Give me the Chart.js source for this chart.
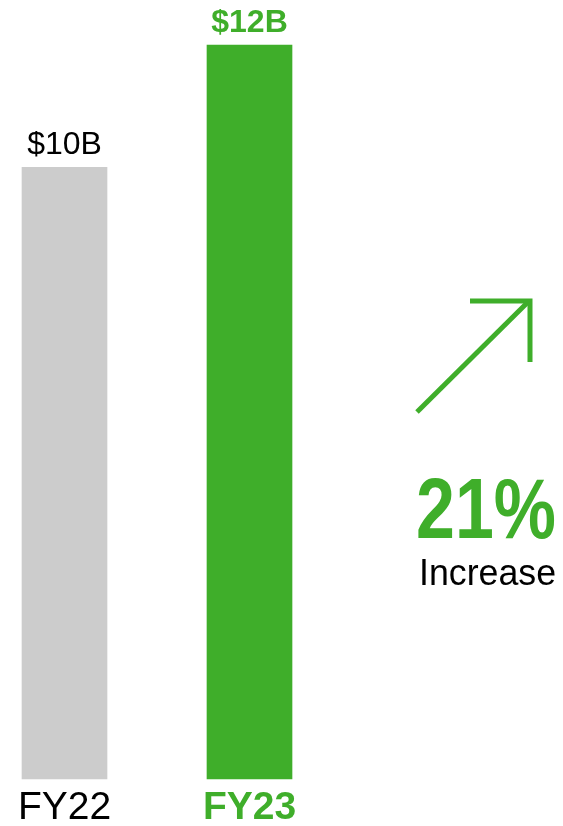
<!DOCTYPE html>
<html><head><meta charset="utf-8">
<script src="https://cdn.jsdelivr.net/npm/chart.js@4"></script>
<style>html,body{margin:0;padding:0;background:#fff;overflow:hidden}</style>
</head><body>
<canvas id="c" width="563" height="826"></canvas>
<script>
const categories = ['FY22', 'FY23'];
const revenue = [10, 12];
const valueLabels = ['$10B', '$12B'];
const changeLabel = '21%';
const changeCaption = 'Increase';

const GREEN = '#3fae2a';
const GRAY = '#cccccc';
const barColors = [GRAY, GREEN];
const textColors = ['#000000', GREEN];
const textWeights = ['normal', 'bold'];
const FONT = '"Liberation Sans", Arial, sans-serif';

const valueLabelPlugin = {
  id: 'valueLabels',
  afterDatasetsDraw(chart) {
    const ctx = chart.ctx;
    const meta = chart.getDatasetMeta(0);
    ctx.save();
    ctx.textAlign = 'center';
    ctx.textBaseline = 'alphabetic';
    meta.data.forEach((bar, i) => {
      ctx.fillStyle = textColors[i];
      ctx.font = textWeights[i] + ' 32px ' + FONT;
      ctx.fillText(valueLabels[i], bar.x, bar.y - 13);
    });
    ctx.restore();
  }
};

function fitText(ctx, text, left, baseline, width, capHeight, font, size) {
  ctx.font = font + ' ' + size + 'px ' + FONT;
  const w = ctx.measureText(text).width;
  ctx.save();
  ctx.translate(left, baseline);
  ctx.scale(width / w, capHeight / (size * 0.716));
  ctx.fillText(text, 0, 0);
  ctx.restore();
}

const changePlugin = {
  id: 'changeNote',
  afterDraw(chart) {
    const ctx = chart.ctx;
    ctx.save();
    ctx.strokeStyle = GREEN;
    ctx.lineWidth = 5;
    ctx.lineCap = 'butt';
    ctx.beginPath();
    ctx.moveTo(417, 412);
    ctx.lineTo(529, 301);
    ctx.stroke();
    ctx.beginPath();
    ctx.moveTo(470, 301);
    ctx.lineTo(530, 301);
    ctx.lineTo(530, 362);
    ctx.stroke();
    ctx.textAlign = 'left';
    ctx.textBaseline = 'alphabetic';
    ctx.fillStyle = GREEN;
    fitText(ctx, changeLabel, 416, 538, 140, 61, 'bold', 76);
    ctx.fillStyle = '#000000';
    fitText(ctx, changeCaption, 419, 585, 137, 27, 'normal', 37);
    ctx.restore();
  }
};

new Chart(document.getElementById('c'), {
  type: 'bar',
  data: {
    labels: categories,
    datasets: [{
      data: revenue,
      backgroundColor: barColors,
      borderWidth: 0,
      barThickness: 85,
      clip: false
    }]
  },
  options: {
    responsive: false,
    animation: false,
    devicePixelRatio: 1,
    layout: { padding: { left: 64.5, right: 313.5, top: 45, bottom: 0 } },
    plugins: { legend: { display: false }, tooltip: { enabled: false } },
    scales: {
      x: {
        offset: false,
        grid: { display: false, drawTicks: false },
        border: { display: false },
        afterFit: (scale) => { scale.height = 47; },
        ticks: {
          padding: 6,
          maxRotation: 0,
          autoSkip: false,
          color: (c) => textColors[c.index],
          font: (c) => ({ family: FONT, size: 39, weight: textWeights[c.index] })
        }
      },
      y: { display: false, min: 0, max: 12 }
    }
  },
  plugins: [valueLabelPlugin, changePlugin]
});
</script>
</body></html>
